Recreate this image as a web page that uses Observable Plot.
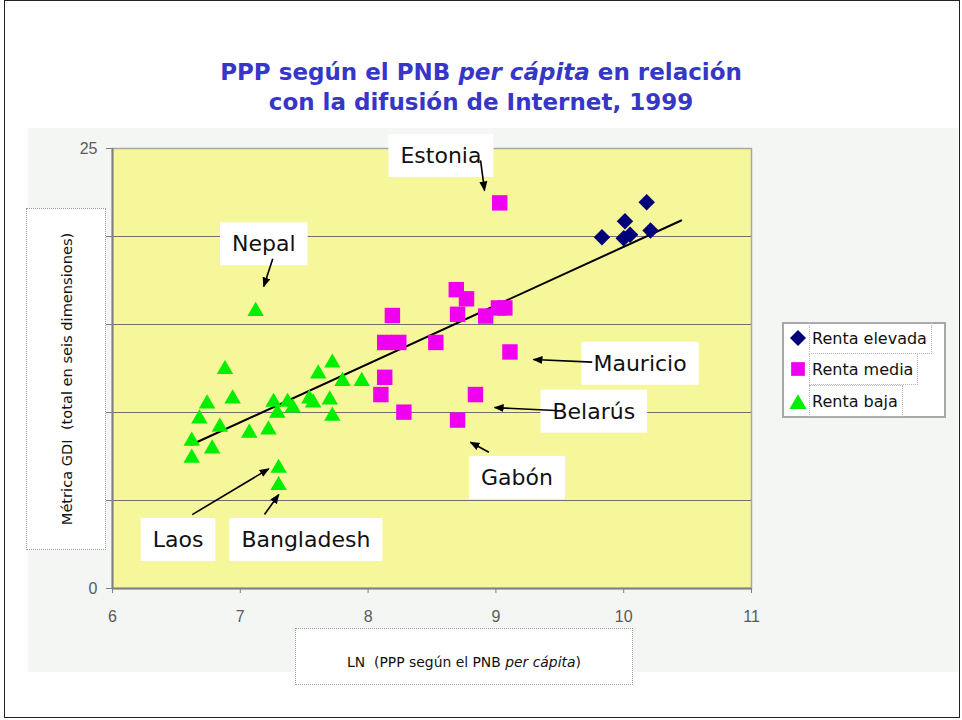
<!DOCTYPE html>
<html>
<head>
<meta charset="utf-8">
<script src="https://cdn.jsdelivr.net/npm/d3@7"></script>
<script src="https://cdn.jsdelivr.net/npm/@observablehq/plot@0.6"></script>
<style>
  body { margin: 0; background: #ffffff; }
  #wrap { position: relative; width: 962px; height: 720px; overflow: hidden; font-family: "DejaVu Sans", sans-serif; }
  #border { position: absolute; left: 4px; top: 0px; width: 956px; height: 718px; border: 1px solid #222; box-sizing: border-box; }
  #panel { position: absolute; left: 28px; top: 128px; width: 930px; height: 544px; background: #F3F6F3; }
  #chart { position: absolute; left: 0; top: 0; }
  #title { position: absolute; left: 0; top: 57px; width: 962px; text-align: center; color: #3636C8; font: bold 23px "DejaVu Sans", sans-serif; line-height: 30px; }
  #ytitle { position: absolute; left: 26px; top: 208px; width: 80px; height: 342px; border: 1px dotted #9a9a9a; box-sizing: border-box; background: #fff; }
  #ytitle span { position: absolute; left: 50%; top: 50%; transform: translate(-50%, -50%) rotate(-90deg); white-space: pre; font-size: 14.6px; color: #111; }
  #xtitle { position: absolute; left: 295px; top: 628px; width: 338px; height: 57px; border: 1px dotted #9a9a9a; box-sizing: border-box; background: #fff; }
  #xtitle span { position: absolute; left: 50%; top: 33px; transform: translate(-50%, -50%); white-space: pre; font-size: 13.9px; color: #111; }
  #legend { position: absolute; left: 782px; top: 322px; width: 164px; height: 96px; border: 2px solid #a8a8a8; box-sizing: border-box; background: #fff; }
  .lrow { position: absolute; left: 0; height: 32px; width: 170px; }
  .lrow svg { position: absolute; left: 6px; top: 8px; }
  .lrow span { position: absolute; left: 25px; top: 0; height: 32px; line-height: 32px; font-size: 16px; color: #111; white-space: pre; border: 1px dotted #b5b5b5; padding: 0 4px 0 2px; box-sizing: border-box; }
</style>
</head>
<body>
<div id="wrap">
  <div id="panel"></div>
  <div id="border"></div>
  <div id="title"></div>
  <div id="ytitle"><span></span></div>
  <div id="xtitle"><span></span></div>
  <div id="legend"></div>
</div>
<script>
// ---------- data ----------
const titleLine1 = "PPP según el PNB ";
const titleItalic = "per cápita";
const titleLine1End = " en relación";
const titleLine2 = "con la difusión de Internet, 1999";
const yTitle = "Métrica GDI  (total en seis dimensiones)";
const xTitleStart = "LN  (PPP según el PNB ";
const xTitleItalic = "per cápita";
const xTitleEnd = ")";

const xTicks = [6, 7, 8, 9, 10, 11];
const xTickLabels = ["6", "7", "8", "9", "10", "11"];
const yTicks = [0, 5, 10, 15, 20, 25];
const yTickLabels = ["0", "", "", "", "", "25"];
const gridY = [5, 10, 15, 20];

const seriesNames = ["Renta elevada", "Renta media", "Renta baja"];
const seriesColors = ["#000078", "#F000F0", "#00EE00"];

// Renta elevada (diamonds)
const highX = [9.83, 10.00, 10.05, 10.01, 10.18, 10.21];
const highY = [19.96, 19.90, 20.10, 20.87, 21.95, 20.34];

// Renta media (squares)
const midX = [9.03, 8.69, 8.77, 8.70, 8.92, 9.02, 9.07, 8.19, 8.13, 8.24, 8.53, 9.11, 8.13, 8.10, 8.84, 8.28, 8.70];
const midY = [21.91, 16.98, 16.46, 15.58, 15.48, 15.94, 15.94, 15.51, 13.98, 13.98, 13.98, 13.44, 12.00, 11.02, 11.02, 10.02, 9.57];

// Renta baja (triangles)
const lowX = [7.12, 6.88, 6.74, 6.94, 6.68, 6.84, 6.62, 6.78, 6.62, 7.07, 7.22, 7.26, 7.29, 7.37, 7.41, 7.54, 7.57, 7.61, 7.72, 7.80, 7.95, 7.70, 7.72, 7.30, 7.30];
const lowY = [15.75, 12.45, 10.50, 10.78, 9.64, 9.17, 8.38, 7.94, 7.41, 8.83, 9.02, 10.59, 9.97, 10.59, 10.27, 10.78, 10.55, 12.20, 12.82, 11.77, 11.77, 10.72, 9.80, 6.84, 5.86];

// Trend line
const trendX = [6.62, 10.45];
const trendY = [8.18, 20.91];

// Callouts
const calloutText = ["Estonia", "Nepal", "Mauricio", "Belarús", "Gabón", "Laos", "Bangladesh"];
const calloutX = [8.570, 7.184, 10.128, 9.766, 9.165, 6.513, 7.513];
const calloutY = [24.58, 19.56, 12.77, 10.05, 6.29, 2.76, 2.76];
const arrowX1 = [8.880, 7.254, 9.754, 9.466, 8.945, 6.624, 7.189];
const arrowY1 = [24.32, 18.73, 12.86, 10.11, 7.74, 4.20, 4.20];
const arrowX2 = [8.911, 7.183, 9.294, 8.990, 8.801, 7.223, 7.301];
const arrowY2 = [22.61, 17.16, 13.01, 10.28, 8.31, 6.80, 5.34];

// ---------- build tables ----------
const high = highX.map((x, i) => ({x, y: highY[i]}));
const mid = midX.map((x, i) => ({x, y: midY[i]}));
const low = lowX.map((x, i) => ({x, y: lowY[i]}));
const trend = trendX.map((x, i) => ({x, y: trendY[i]}));
const callouts = calloutText.map((t, i) => ({t, x: calloutX[i], y: calloutY[i]}));
const arrows = arrowX1.map((x1, i) => ({x1, y1: arrowY1[i], x2: arrowX2[i], y2: arrowY2[i]}));

// ---------- html texts ----------
const titleEl = document.getElementById("title");
titleEl.append(titleLine1);
const it = document.createElement("i"); it.textContent = titleItalic; titleEl.append(it);
titleEl.append(titleLine1End);
titleEl.append(document.createElement("br"));
titleEl.append(titleLine2);

document.querySelector("#ytitle span").textContent = yTitle;
const xs = document.querySelector("#xtitle span");
xs.append(xTitleStart);
const xi = document.createElement("i"); xi.textContent = xTitleItalic; xs.append(xi);
xs.append(xTitleEnd);

// legend
const legendShapes = [
  "M7,0L14,7L7,14L0,7Z",
  "M1,1H13V13H1Z",
  "M7,1L14.5,14H-0.5Z"
];
const legendTops = [0, 31, 63];
const legend = document.getElementById("legend");
seriesNames.forEach((name, i) => {
  const row = document.createElement("div");
  row.className = "lrow";
  row.style.top = (legendTops[i] - 2) + "px";
  row.innerHTML = `<svg width="16" height="16" viewBox="0 0 14 14" overflow="visible"><path d="${legendShapes[i]}" fill="${seriesColors[i]}"/></svg><span>${name}</span>`;
  legend.appendChild(row);
});

// ---------- marker ----------
const filledArrow = (color) => d3.create("svg:marker")
  .attr("viewBox", "-5 -5 10 10")
  .attr("markerWidth", 10)
  .attr("markerHeight", 10)
  .attr("markerUnits", "userSpaceOnUse")
  .attr("orient", "auto")
  .attr("refX", 4)
  .attr("fill", color)
  .attr("stroke", "none")
  .call(m => m.append("path").attr("d", "M-5,-4L5,0L-5,4Z"))
  .node();

// ---------- plot ----------
const chart = Plot.plot({
  width: 962,
  height: 720,
  marginLeft: 112,
  marginRight: 211,
  marginTop: 148,
  marginBottom: 132,
  style: {background: "transparent", fontFamily: "Liberation Sans, Arial, sans-serif", fontSize: "16px", color: "#5a5a5a"},
  x: {domain: [6, 11]},
  y: {domain: [0, 25]},
  marks: [
    Plot.frame({fill: "#F6F69A", stroke: "#a8a8a8", strokeWidth: 1.5}),
    Plot.ruleY(gridY, {stroke: "#6e6e6e", strokeWidth: 1.2}),
    Plot.axisX({ticks: xTicks, tickSize: 5, tickPadding: 17, fontSize: 16, label: null, stroke: "#808080",
      tickFormat: (d) => xTickLabels[xTicks.indexOf(d)]}),
    Plot.axisY({ticks: yTicks, tickSize: 6, tickPadding: 9, fontSize: 16, label: null, stroke: "#808080",
      tickFormat: (d) => yTickLabels[yTicks.indexOf(d)]}),
    Plot.ruleX([6], {stroke: "#808080", strokeWidth: 2}),
    Plot.ruleY([0], {stroke: "#808080", strokeWidth: 2}),
    Plot.line(trend, {x: "x", y: "y", stroke: "#000", strokeWidth: 2}),
    Plot.dot(high, {x: "x", y: "y", symbol: "diamond2", r: 7.4, fill: seriesColors[0], stroke: null}),
    Plot.dot(mid, {x: "x", y: "y", symbol: "square", r: 8.7, fill: seriesColors[1], stroke: null}),
    Plot.dot(low, {x: "x", y: "y", symbol: "triangle", r: 6.1, fill: seriesColors[2], stroke: null}),
    Plot.text(callouts, {x: "x", y: "y", text: "t", fontSize: 22, fontFamily: "DejaVu Sans", fill: "#111"}),
    Plot.link(arrows, {x1: "x1", y1: "y1", x2: "x2", y2: "y2", stroke: "#000", strokeWidth: 1.6, markerEnd: filledArrow})
  ]
});
chart.id = "chart";
document.getElementById("wrap").insertBefore(chart, document.getElementById("title"));

// white boxes behind callout labels
const allTexts = Array.from(chart.querySelectorAll("text")).filter(t => calloutText.includes(t.textContent));
if (allTexts.length) {
  const parent = allTexts[0].parentNode;
  const first = parent.querySelector("text");
  allTexts.forEach(t => {
    const b = t.getBBox();
    const r = document.createElementNS("http://www.w3.org/2000/svg", "rect");
    const cy = b.y + b.height / 2;
    r.setAttribute("x", b.x - 12);
    r.setAttribute("y", cy - 21.5);
    r.setAttribute("width", b.width + 24);
    r.setAttribute("height", 43);
    r.setAttribute("fill", "#ffffff");
    r.setAttribute("stroke", "none");
    const tr = t.getAttribute("transform");
    if (tr) r.setAttribute("transform", tr);
    t.parentNode.insertBefore(r, first);
  });
}
</script>
</body>
</html>
